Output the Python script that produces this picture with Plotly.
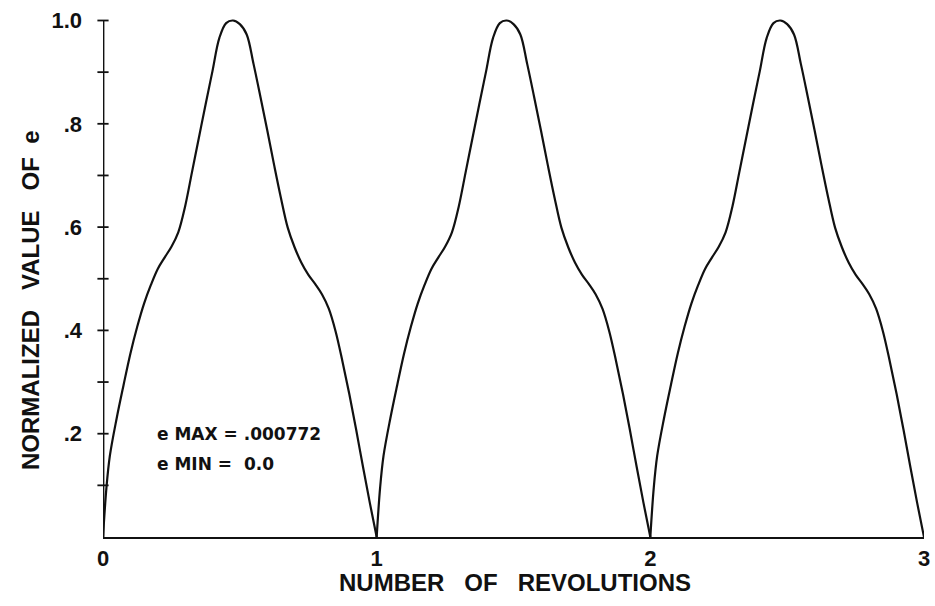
import plotly.graph_objects as go

# Phase within one revolution (fraction of a turn) at which e was sampled
phase = [0.0, 0.0125, 0.025, 0.05, 0.075, 0.1, 0.125, 0.15, 0.175, 0.2,
         0.225, 0.25, 0.275, 0.3, 0.325, 0.35, 0.375, 0.4, 0.425, 0.45,
         0.475, 0.5, 0.525, 0.55, 0.575, 0.6, 0.625, 0.65, 0.675, 0.7,
         0.725, 0.75, 0.775, 0.8, 0.825, 0.85, 0.875, 0.9, 0.925, 0.95,
         0.975, 1.0]

# Normalized e for each of the three revolutions
e_rev1 = [0.0, 0.095, 0.157, 0.230, 0.294, 0.355, 0.407, 0.452, 0.488, 0.519,
          0.541, 0.562, 0.590, 0.640, 0.706, 0.772, 0.838, 0.902, 0.966, 0.995,
          1.0, 0.993, 0.973, 0.916, 0.853, 0.788, 0.721, 0.657, 0.599, 0.561,
          0.531, 0.508, 0.490, 0.470, 0.442, 0.398, 0.340, 0.277, 0.208, 0.136,
          0.066, 0.0]
e_rev2 = [0.0, 0.095, 0.157, 0.230, 0.294, 0.355, 0.407, 0.452, 0.488, 0.519,
          0.541, 0.562, 0.590, 0.640, 0.706, 0.772, 0.838, 0.902, 0.966, 0.995,
          1.0, 0.993, 0.973, 0.916, 0.853, 0.788, 0.721, 0.657, 0.599, 0.561,
          0.531, 0.508, 0.490, 0.470, 0.442, 0.398, 0.340, 0.277, 0.208, 0.136,
          0.066, 0.0]
e_rev3 = [0.0, 0.095, 0.157, 0.230, 0.294, 0.355, 0.407, 0.452, 0.488, 0.519,
          0.541, 0.562, 0.590, 0.640, 0.706, 0.772, 0.838, 0.902, 0.966, 0.995,
          1.0, 0.993, 0.973, 0.916, 0.853, 0.788, 0.721, 0.657, 0.599, 0.561,
          0.531, 0.508, 0.490, 0.470, 0.442, 0.398, 0.340, 0.277, 0.208, 0.136,
          0.066, 0.0]

revolutions = [0, 1, 2]
x_ticks = [0, 1, 2, 3]
x_tick_text = ["0", "1", "2", "3"]
y_ticks = [0.2, 0.4, 0.6, 0.8, 1.0]
y_tick_text = [".2", ".4", ".6", ".8", "1.0"]
y_minor = [0.1, 0.2, 0.3, 0.4, 0.5, 0.6, 0.7, 0.8, 0.9, 1.0]

FONT = "Liberation Sans"
NOTE_FONT = "DejaVu Sans"
INK = "#111111"
SP = "\u00a0"

fig = go.Figure()

for rev, e_vals in zip(revolutions, [e_rev1, e_rev2, e_rev3]):
    fig.add_trace(go.Scatter(
        x=[rev + p for p in phase], y=e_vals, mode="lines",
        line=dict(color=INK, width=2.2, shape="spline", smoothing=1.0),
        showlegend=False, hoverinfo="skip",
    ))

# vertical axis with cross ticks every 0.1
fig.add_trace(go.Scatter(
    x=[0, 0], y=[0, 1.0], mode="lines",
    line=dict(color=INK, width=2.8), showlegend=False, hoverinfo="skip",
))
fig.add_trace(go.Scatter(
    x=[0] * len(y_minor), y=y_minor, mode="markers",
    marker=dict(symbol="line-ew", size=8, line=dict(color=INK, width=1.8)),
    cliponaxis=False, showlegend=False, hoverinfo="skip",
))

fig.add_annotation(x=0.19, y=0.2, xref="x", yref="y", xanchor="left",
                   yanchor="middle", showarrow=False,
                   text="e MAX = .000772",
                   font=dict(family=NOTE_FONT, size=17, color=INK, weight="bold"))
fig.add_annotation(x=0.19, y=0.142, xref="x", yref="y", xanchor="left",
                   yanchor="middle", showarrow=False,
                   text=f"e MIN{SP}={SP}{SP}0.0",
                   font=dict(family=NOTE_FONT, size=17, color=INK, weight="bold"))

# axis titles
fig.add_annotation(x=0.502, y=-0.085, xref="paper", yref="paper",
                   xanchor="center", yanchor="middle", showarrow=False,
                   text=f"NUMBER{SP*3}OF{SP*3}REVOLUTIONS",
                   font=dict(family=FONT, size=24, color=INK, weight="bold"))
fig.add_annotation(x=-0.0886, y=0.446, xref="paper", yref="paper",
                   xanchor="center", yanchor="middle", showarrow=False,
                   textangle=-90,
                   text=f"NORMALIZED{SP*3}VALUE{SP*3}OF{SP*2}e",
                   font=dict(family=FONT, size=24, color=INK, weight="bold"))

fig.update_layout(
    width=935, height=606,
    margin=dict(l=103, r=8, t=5, b=69),
    paper_bgcolor="white", plot_bgcolor="white",
    font=dict(family=FONT, color=INK),
    xaxis=dict(
        range=[0, 3], showgrid=False, zeroline=False,
        showline=True, linecolor=INK, linewidth=2.2,
        tickmode="array", tickvals=x_ticks, ticktext=x_tick_text,
        ticks="", ticklabelstandoff=0,
        tickfont=dict(family=FONT, size=22, color=INK, weight="bold"),
    ),
    yaxis=dict(
        range=[0, 1.03], showgrid=False, zeroline=False, showline=False,
        tickmode="array", tickvals=y_ticks, ticktext=y_tick_text,
        ticks="", ticklabelstandoff=20,
        tickfont=dict(family=FONT, size=22, color=INK, weight="bold"),
    ),
)

fig.write_html("out.html")
